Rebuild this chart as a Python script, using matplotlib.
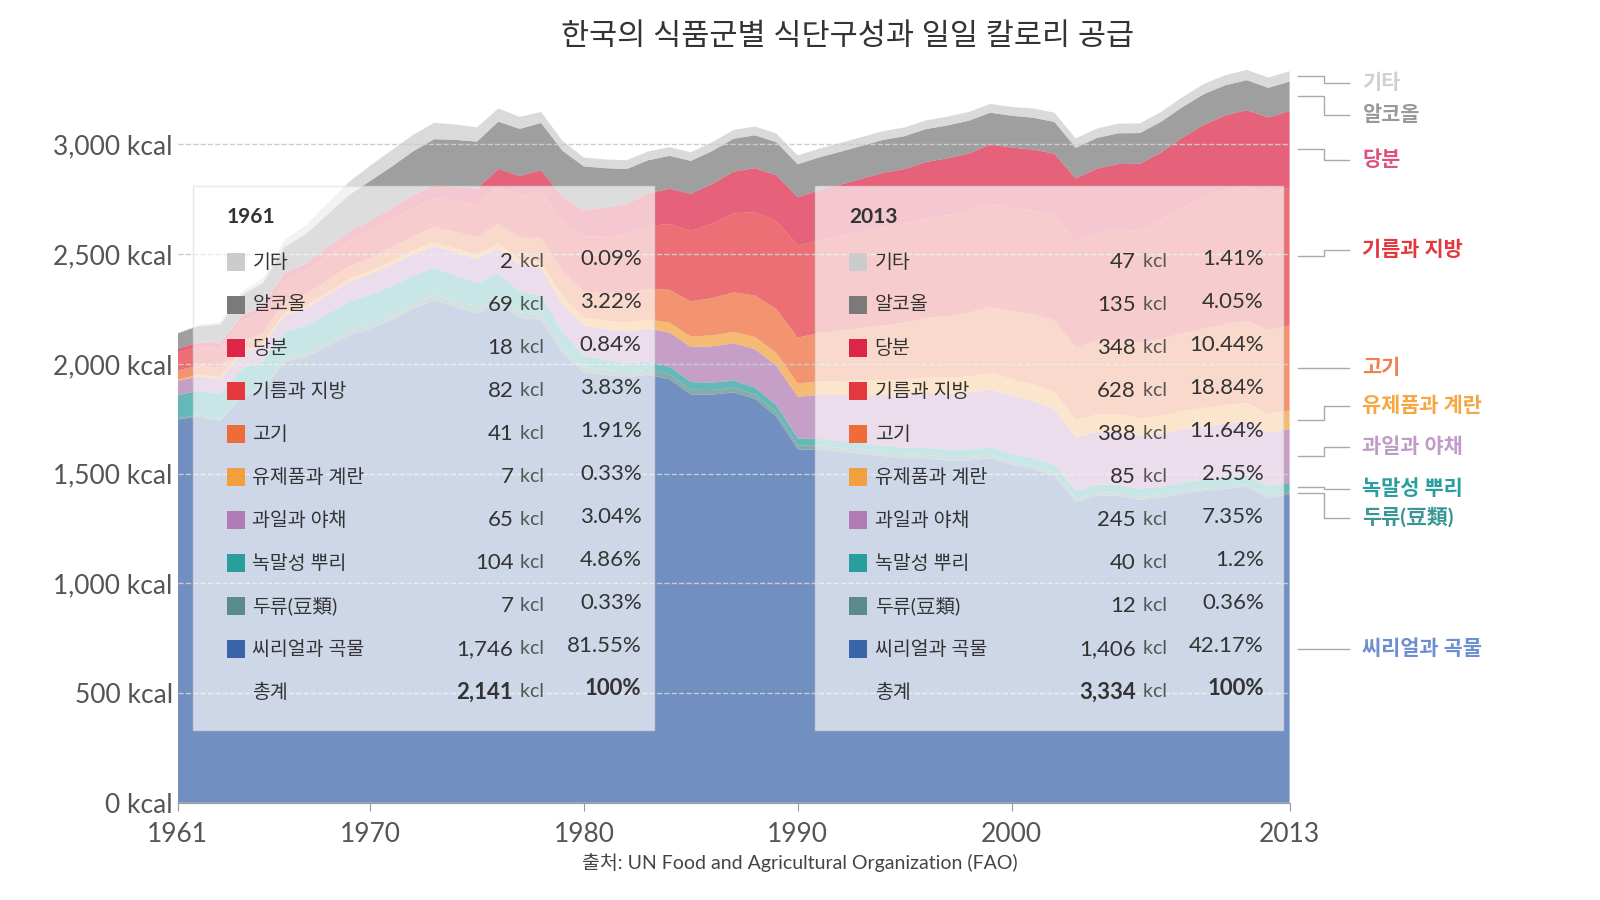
import numpy as np
import matplotlib.pyplot as plt
from matplotlib.patches import Rectangle

plt.rcParams['font.family'] = ['Lato', 'Noto Sans CJK KR', 'DejaVu Sans']

years = list(range(1961, 2014))

cereal = [1746, 1760, 1740, 1850, 1880, 2010, 2030, 2080, 2130, 2160,
          2200, 2250, 2290, 2260, 2230, 2280, 2210, 2200, 2050, 1960,
          1950, 1940, 1950, 1930, 1860, 1860, 1870, 1840, 1760, 1610,
          1610, 1600, 1590, 1580, 1570, 1570, 1560, 1560, 1570, 1540,
          1520, 1490, 1370, 1400, 1400, 1380, 1390, 1410, 1420, 1430,
          1440, 1390, 1406]
pulses = [7, 8, 9, 10, 12, 15, 18, 20, 22, 24,
          25, 26, 27, 28, 28, 27, 26, 25, 24, 24,
          24, 23, 23, 22, 22, 21, 21, 20, 20, 19,
          19, 18, 18, 17, 17, 16, 16, 15, 15, 15,
          14, 14, 14, 13, 13, 13, 13, 12, 12, 12,
          12, 12, 12]
roots = [104, 110, 115, 118, 120, 122, 125, 128, 130, 130,
         128, 125, 120, 115, 110, 105, 95, 85, 70, 55,
         45, 40, 38, 36, 35, 34, 33, 32, 32, 31,
         30, 30, 30, 31, 31, 32, 33, 34, 35, 35,
         36, 36, 37, 37, 38, 38, 39, 39, 40, 40,
         40, 40, 40]
fruitveg = [65, 66, 68, 70, 72, 75, 80, 85, 90, 95,
            98, 100, 100, 105, 110, 115, 120, 125, 130, 135,
            140, 145, 150, 155, 160, 165, 170, 175, 180, 190,
            200, 210, 220, 230, 240, 250, 255, 260, 265, 265,
            260, 255, 245, 240, 240, 240, 240, 242, 244, 245,
            245, 245, 245]
dairy = [7, 7, 8, 8, 9, 10, 11, 12, 13, 14,
         15, 16, 17, 18, 20, 22, 25, 28, 32, 36,
         38, 40, 42, 45, 48, 50, 52, 55, 58, 60,
         62, 64, 66, 68, 70, 72, 73, 74, 75, 76,
         77, 78, 79, 80, 80, 81, 82, 83, 84, 85,
         85, 85, 85]
meat = [41, 42, 44, 46, 48, 50, 52, 55, 58, 60,
        62, 65, 70, 75, 80, 90, 100, 110, 115, 120,
        125, 130, 140, 150, 160, 170, 180, 190, 200, 210,
        220, 230, 240, 250, 260, 270, 280, 290, 300, 310,
        320, 325, 330, 335, 340, 345, 350, 355, 360, 370,
        375, 382, 388]
oils = [82, 85, 88, 92, 96, 100, 105, 110, 115, 120,
        125, 128, 130, 140, 150, 170, 190, 210, 230, 250,
        260, 270, 285, 300, 320, 340, 360, 380, 400, 420,
        420, 430, 440, 450, 450, 455, 460, 460, 470, 470,
        470, 475, 480, 490, 500, 510, 540, 570, 600, 610,
        615, 622, 628]
sugar = [18, 20, 22, 25, 28, 32, 36, 40, 45, 50,
         55, 58, 60, 65, 70, 80, 90, 100, 110, 120,
         130, 140, 150, 160, 170, 180, 190, 200, 210, 220,
         230, 235, 240, 245, 250, 255, 260, 265, 270, 275,
         280, 285, 290, 295, 300, 305, 310, 320, 330, 340,
         345, 347, 348]
alcohol = [69, 75, 85, 95, 105, 120, 135, 150, 165, 180,
           190, 200, 210, 215, 215, 215, 215, 215, 210, 200,
           180, 160, 150, 150, 150, 150, 150, 150, 150, 150,
           150, 150, 150, 150, 150, 150, 150, 150, 145, 145,
           145, 145, 140, 140, 140, 140, 140, 140, 140, 138,
           136, 135, 135]
other = [2, 5, 10, 15, 20, 30, 40, 50, 60, 70,
         75, 75, 75, 70, 65, 60, 55, 50, 45, 40,
         40, 40, 40, 40, 40, 40, 40, 40, 40, 40,
         40, 40, 40, 40, 40, 40, 40, 40, 40, 40,
         42, 42, 43, 43, 44, 44, 45, 45, 46, 46,
         47, 47, 47]

names = ['씨리얼과 곡물', '두류(豆類)', '녹말성 뿌리', '과일과 야채', '유제품과 계란',
         '고기', '기름과 지방', '당분', '알코올', '기타']
colors = ['#3a64a8', '#5a8a8a', '#2a9d9d', '#b07ab5', '#f2a03d',
          '#ef6b3a', '#e4383e', '#dc2547', '#7a7a7a', '#cccccc']
label_colors = ['#6d8fd0', '#3a9595', '#2a9d9d', '#c09ac9', '#f5a742',
                '#f08050', '#e4383e', '#e0507a', '#999999', '#d0d0d0']

vals_1961 = ['1,746', '7', '104', '65', '7', '41', '82', '18', '69', '2']
pct_1961 = ['81.55%', '0.33%', '4.86%', '3.04%', '0.33%', '1.91%', '3.83%', '0.84%', '3.22%', '0.09%']
vals_2013 = ['1,406', '12', '40', '245', '85', '388', '628', '348', '135', '47']
pct_2013 = ['42.17%', '0.36%', '1.2%', '7.35%', '2.55%', '11.64%', '18.84%', '10.44%', '4.05%', '1.41%']
totals = {'1961': '2,141', '2013': '3,334'}

# label heights on the right, in kcal
label_y = [700, 1300, 1430, 1620, 1810, 1980, 2520, 2930, 3135, 3280]


def draw_chart():
    series = [cereal, pulses, roots, fruitveg, dairy, meat, oils, sugar, alcohol, other]
    fig = plt.figure(figsize=(16, 9), dpi=100)
    ax = fig.add_axes([0.111, 0.108, 0.695, 0.829])
    ax.stackplot(years, *series, colors=colors, alpha=0.72, linewidth=0)
    ax.set_xlim(1961, 2013)
    ax.set_ylim(0, 3400)
    ax.set_xticks([1961, 1970, 1980, 1990, 2000, 2013])
    ax.set_yticks(range(0, 3001, 500))
    ax.set_yticklabels([f'{v:,} kcal' for v in range(0, 3001, 500)])
    ax.tick_params(axis='both', labelsize=19, colors='#555555', length=0)
    ax.tick_params(axis='x', length=6, color='#999999', pad=8)
    ax.grid(axis='y', linestyle='--', color='#cccccc', linewidth=1)
    for s in ['top', 'right', 'left']:
        ax.spines[s].set_visible(False)
    ax.spines['bottom'].set_color('#999999')

    # legend boxes
    for x0, x1, yr, vals, pcts in [(1961.7, 1983.3, '1961', vals_1961, pct_1961),
                                  (1990.8, 2012.7, '2013', vals_2013, pct_2013)]:
        ax.add_patch(Rectangle((x0, 333), x1 - x0, 2477, facecolor='white', alpha=0.65,
                               edgecolor='#dddddd', zorder=3))
        ax.text(x0 + 1.6, 2670, yr, fontsize=15, fontweight='bold', color='#333333',
                va='center', zorder=4)
        for i in range(10):
            y = 2465 - (9 - i) * 196
            ax.add_patch(Rectangle((x0 + 1.6, y - 40), 0.85, 80, facecolor=colors[i],
                                   zorder=4))
            ax.text(x0 + 2.8, y, names[i], fontsize=14, color='#333333', va='center', zorder=4)
            ax.text(x0 + 15.0, y, vals[i], fontsize=16, color='#333333', va='center',
                    ha='right', zorder=4)
            ax.text(x0 + 15.1, y, ' kcl', fontsize=14, color='#555555', va='center', zorder=4)
            ax.text(x0 + 21.0, y + 15, pcts[i], fontsize=16, color='#333333', va='center',
                    ha='right', zorder=4)
        y = 2465 - 10 * 196
        ax.text(x0 + 2.8, y, '총계', fontsize=14, color='#333333', va='center', zorder=4)
        ax.text(x0 + 15.0, y, totals[yr], fontsize=16, fontweight='bold', color='#333333',
                va='center', ha='right', zorder=4)
        ax.text(x0 + 15.1, y, ' kcl', fontsize=14, color='#555555', va='center', zorder=4)
        ax.text(x0 + 21.0, y + 15, '100%', fontsize=16, fontweight='bold', color='#333333',
                va='center', ha='right', zorder=4)

    # right-side labels with leader lines
    cum = np.cumsum([s[-1] for s in series])
    bottoms = np.concatenate([[0], cum[:-1]])
    for i in range(10):
        mid = (bottoms[i] + cum[i]) / 2
        ax.plot([2013.4, 2014.6, 2014.6, 2015.8], [mid, mid, label_y[i], label_y[i]],
                color='#aaaaaa', linewidth=1, clip_on=False)
        ax.text(2016.4, label_y[i], names[i], fontsize=15, color=label_colors[i],
                fontweight='bold', va='center')

    fig.text(0.53, 0.96, '한국의 식품군별 식단구성과 일일 칼로리 공급', fontsize=22,
             ha='center', va='center', color='#333333')
    fig.text(0.5, 0.042, '출처: UN Food and Agricultural Organization (FAO)', fontsize=14,
             ha='center', va='center', color='#444444')

    fig.savefig('out.png', dpi=100)


draw_chart()
